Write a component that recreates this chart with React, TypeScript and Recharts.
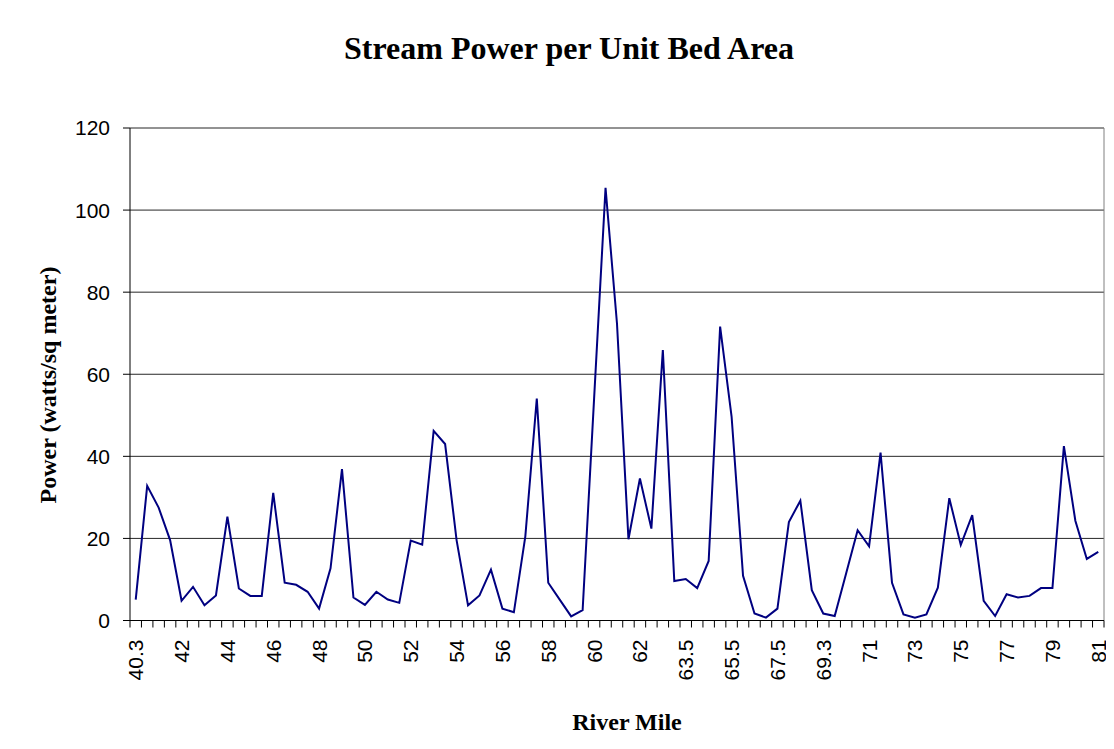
import React from "react";
import { LineChart, Line, XAxis, YAxis, CartesianGrid } from "recharts";

// river mile categories (only every 4th is labelled on the axis)
const MILES: string[] = [
  "40.3", "40.7", "41.1", "41.5", "42", "42.5", "43", "43.5", "44", "44.5",
  "45", "45.5", "46", "46.5", "47", "47.5", "48", "48.5", "49", "49.5",
  "50", "50.5", "51", "51.5", "52", "52.5", "53", "53.5", "54", "54.5",
  "55", "55.5", "56", "56.5", "57", "57.5", "58", "58.5", "59", "59.5",
  "60", "60.5", "61", "61.5", "62", "62.4", "62.8", "63.1", "63.5", "64",
  "64.5", "65", "65.5", "66", "66.5", "67", "67.5", "68", "68.5", "69",
  "69.3", "69.7", "70.1", "70.5", "71", "71.5", "72", "72.5", "73", "73.5",
  "74", "74.5", "75", "75.5", "76", "76.5", "77", "77.5", "78", "78.5",
  "79", "79.5", "80", "80.5", "81",
];

// stream power (watts/sq meter)
const POWER: number[] = [
  5.1, 32.8, 27.5, 19.6, 4.8, 8.2, 3.7, 6.1, 25.3, 7.8,
  6.0, 6.0, 31.1, 9.2, 8.7, 7.0, 2.9, 12.7, 36.9, 5.6,
  3.8, 7.0, 5.1, 4.3, 19.5, 18.5, 46.2, 43.0, 19.6, 3.7,
  6.1, 12.4, 2.9, 2.0, 20.5, 54.1, 9.2, 5.1, 1.0, 2.5,
  54.0, 105.4, 72.3, 19.8, 34.6, 22.4, 65.9, 9.6, 10.1, 7.9,
  14.5, 71.6, 49.7, 10.9, 1.7, 0.7, 2.9, 24.0, 29.2, 7.4,
  1.7, 1.1, 11.5, 22.0, 18.1, 40.9, 9.2, 1.5, 0.7, 1.5,
  8.0, 29.8, 18.4, 25.7, 4.8, 1.1, 6.4, 5.6, 6.0, 7.9,
  7.9, 42.5, 24.3, 15.0, 16.7,
];

const Y_TICKS = [0, 20, 40, 60, 80, 100, 120];

const W = 1105;
const H = 740;
const PLOT_LEFT = 122;
const PLOT_RIGHT = 1096;
const BAND = (PLOT_RIGHT - PLOT_LEFT) / MILES.length;

const SANS = "'Liberation Sans', Arial, sans-serif";
const SERIF = "'Liberation Serif', 'Times New Roman', serif";

const data = MILES.map((m, i) => ({ mile: m, power: POWER[i] }));

// tick marks sit between categories, labels every 4th category
const XTick = (props: any) => {
  const { x, y, payload } = props;
  const i = payload.index;
  const half = BAND / 2;
  const ty = y + 19;
  return (
    <g>
      <line x1={x - half} x2={x - half} y1={y} y2={y + 7} stroke="#000" />
      {i === MILES.length - 1 && (
        <line x1={x + half} x2={x + half} y1={y} y2={y + 7} stroke="#000" />
      )}
      {i % 4 === 0 && (
        <text
          x={x}
          y={ty}
          transform={`rotate(-90 ${x} ${ty})`}
          textAnchor="end"
          dominantBaseline="central"
          fontFamily={SANS}
          fontSize={21}
          fill="#000"
        >
          {payload.value}
        </text>
      )}
    </g>
  );
};

const App: React.FC = () => {
  return (
    // chart frame: left and top edges show in the crop
    <div
      style={{
        marginLeft: -1,
        marginTop: -1,
        width: W,
        height: H,
        borderLeft: "1px solid #000",
        borderTop: "1px solid #000",
      }}
    >
      <div style={{ position: "relative", width: W, height: H }}>
        {/* title */}
        <div
          style={{
            position: "absolute",
            left: 561,
            top: 24,
            transform: "translateX(-50%)",
            whiteSpace: "nowrap",
            fontFamily: SERIF,
            fontWeight: "bold",
            fontSize: 32,
            lineHeight: "32px",
            color: "#000",
          }}
        >
          Stream Power per Unit Bed Area
        </div>

        {/* y axis title */}
        <div
          style={{
            position: "absolute",
            left: 40,
            top: 377,
            transform: "translate(-50%, -50%) rotate(-90deg)",
            whiteSpace: "nowrap",
            fontFamily: SERIF,
            fontWeight: "bold",
            fontSize: 24,
            lineHeight: "24px",
            color: "#000",
          }}
        >
          Power (watts/sq meter)
        </div>

        {/* x axis title */}
        <div
          style={{
            position: "absolute",
            left: 619,
            top: 714,
            transform: "translate(-50%, -50%)",
            whiteSpace: "nowrap",
            fontFamily: SERIF,
            fontWeight: "bold",
            fontSize: 24,
            lineHeight: "24px",
            color: "#000",
          }}
        >
          River Mile
        </div>

        <div style={{ position: "absolute", left: 0, top: 0 }}>
          <LineChart
            width={W}
            height={H}
            data={data}
            margin={{ top: 120, right: W - PLOT_RIGHT, bottom: 67.5, left: PLOT_LEFT - 60 }}
          >
            <CartesianGrid horizontal={true} vertical={false} stroke="#000" strokeOpacity={0.85} />
            <CartesianGrid horizontal={false} vertical={true} verticalPoints={[PLOT_RIGHT]} stroke="#808080" />
            <XAxis
              dataKey="mile"
              scale="band"
              interval={0}
              height={60}
              tickSize={0}
              tickMargin={0}
              tickLine={false}
              axisLine={{ stroke: "#000" }}
              tick={<XTick />}
            />
            <YAxis
              width={60}
              domain={[0, 120]}
              ticks={Y_TICKS}
              interval={0}
              tickSize={7}
              tickMargin={13}
              axisLine={{ stroke: "#000" }}
              tickLine={{ stroke: "#000" }}
              tick={{ fontFamily: SANS, fontSize: 21, fill: "#000" }}
            />
            <Line
              type="linear"
              dataKey="power"
              stroke="#000080"
              strokeWidth={2}
              dot={false}
              isAnimationActive={false}
            />
          </LineChart>
        </div>
      </div>
    </div>
  );
};

export default App;
